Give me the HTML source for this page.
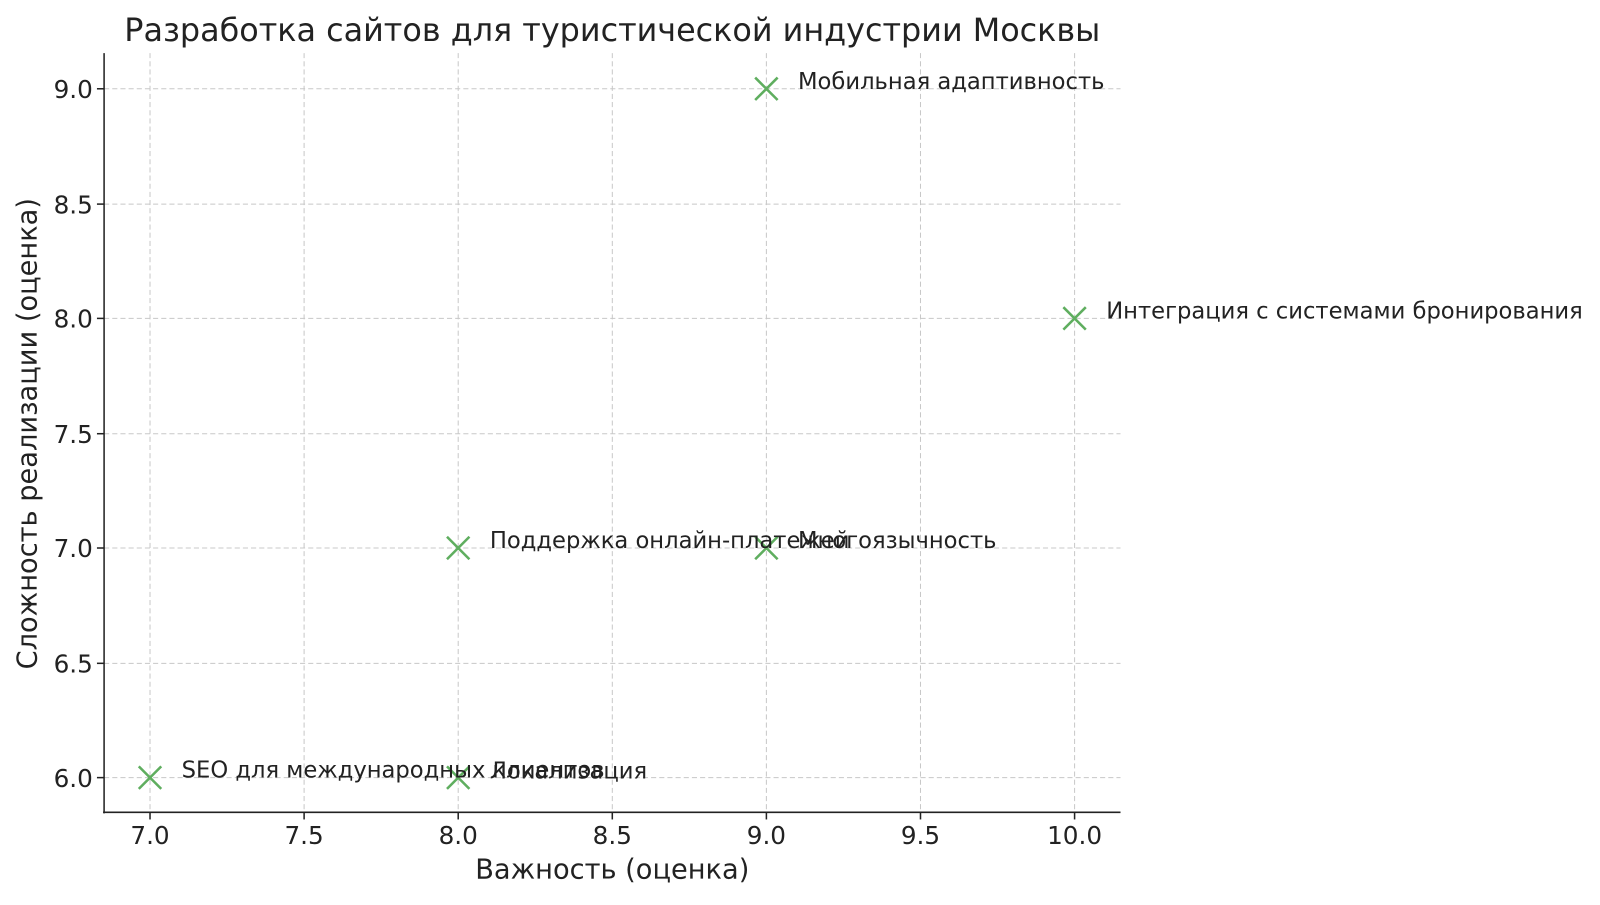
<!DOCTYPE html>
<html><head><meta charset="utf-8"><style>
body{margin:0;background:#fff;width:1600px;height:900px;overflow:hidden}
svg text{font-family:"DejaVu Sans","Liberation Sans",sans-serif;fill:#222}
</style></head><body>
<svg width="1600" height="900" xmlns="http://www.w3.org/2000/svg">
<g transform="scale(1.0205)">
<g stroke="#c8c8c8" stroke-width="1" stroke-dasharray="5,3">
<line x1="147" y1="52" x2="147" y2="796"/><line x1="298" y1="52" x2="298" y2="796"/>
<line x1="449" y1="52" x2="449" y2="796"/><line x1="600" y1="52" x2="600" y2="796"/>
<line x1="751" y1="52" x2="751" y2="796"/><line x1="902" y1="52" x2="902" y2="796"/>
<line x1="1053" y1="52" x2="1053" y2="796"/>
<line x1="102" y1="87" x2="1098" y2="87"/><line x1="102" y1="200" x2="1098" y2="200"/>
<line x1="102" y1="312" x2="1098" y2="312"/><line x1="102" y1="425" x2="1098" y2="425"/>
<line x1="102" y1="537" x2="1098" y2="537"/><line x1="102" y1="650" x2="1098" y2="650"/>
<line x1="102" y1="762" x2="1098" y2="762"/>
</g>
<g stroke="#222" stroke-width="1.5">
<line x1="102" y1="52" x2="102" y2="797"/><line x1="101" y1="796" x2="1098" y2="796"/>
<line x1="147" y1="796" x2="147" y2="803"/><line x1="298" y1="796" x2="298" y2="803"/>
<line x1="449" y1="796" x2="449" y2="803"/><line x1="600" y1="796" x2="600" y2="803"/>
<line x1="751" y1="796" x2="751" y2="803"/><line x1="902" y1="796" x2="902" y2="803"/>
<line x1="1053" y1="796" x2="1053" y2="803"/>
<line x1="95" y1="87" x2="102" y2="87"/><line x1="95" y1="200" x2="102" y2="200"/>
<line x1="95" y1="312" x2="102" y2="312"/><line x1="95" y1="425" x2="102" y2="425"/>
<line x1="95" y1="537" x2="102" y2="537"/><line x1="95" y1="650" x2="102" y2="650"/>
<line x1="95" y1="762" x2="102" y2="762"/>
</g>
<g font-size="24.2" text-anchor="middle">
<text x="147" y="827">7.0</text><text x="298" y="827">7.5</text><text x="449" y="827">8.0</text>
<text x="600" y="827">8.5</text><text x="751" y="827">9.0</text><text x="902" y="827">9.5</text>
<text x="1053" y="827">10.0</text>
</g>
<g font-size="24.2" text-anchor="end">
<text x="91" y="96">9.0</text><text x="91" y="209">8.5</text><text x="91" y="321">8.0</text>
<text x="91" y="434">7.5</text><text x="91" y="546">7.0</text><text x="91" y="659">6.5</text>
<text x="91" y="771">6.0</text>
</g>
<text x="600" y="861" font-size="26.7" text-anchor="middle">Важность (оценка)</text>
<text transform="translate(36,425) rotate(-90)" font-size="26.7" text-anchor="middle">Сложность реализации (оценка)</text>
<text x="600" y="40" font-size="31.2" text-anchor="middle">Разработка сайтов для туристической индустрии Москвы</text>
<g stroke="#5fae5f" stroke-width="2.5">
<path d="M740 76l22 22M762 76l-22 22"/>
<path d="M1042 301l22 22M1064 301l-22 22"/>
<path d="M438 526l22 22M460 526l-22 22"/>
<path d="M740 526l22 22M762 526l-22 22"/>
<path d="M136 751l22 22M158 751l-22 22"/>
<path d="M438 751l22 22M460 751l-22 22"/>
</g>
<g font-size="22.2">
<text x="782" y="87">Мобильная адаптивность</text>
<text x="1084" y="312">Интеграция с системами бронирования</text>
<text x="480" y="537">Поддержка онлайн-платежей</text>
<text x="782" y="537">Многоязычность</text>
<text x="178" y="762">SEO для международных клиентов</text>
<text x="480" y="763">Локализация</text>
</g>
</g>
</svg>
</body></html>
